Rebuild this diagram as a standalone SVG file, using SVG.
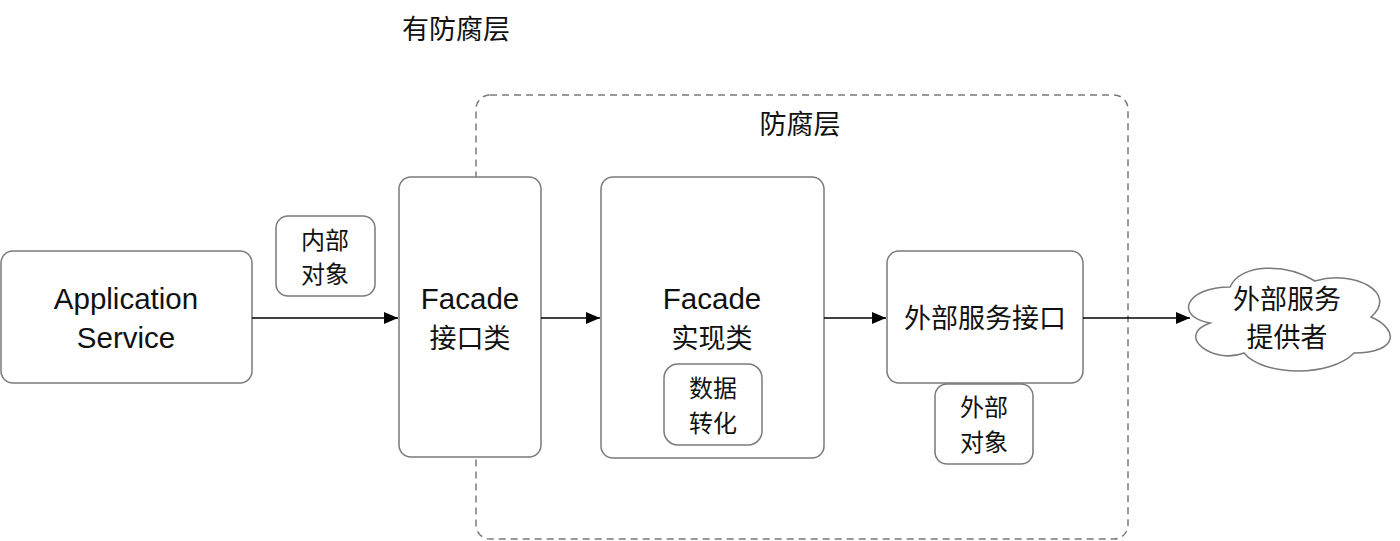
<svg xmlns="http://www.w3.org/2000/svg" width="1400" height="541" viewBox="0 0 1400 541">
<defs>
<marker id="arr" markerWidth="14" markerHeight="12" refX="14" refY="6" orient="auto" markerUnits="userSpaceOnUse">
<path d="M0,0 L14,6 L0,12 Z" fill="#000"/>
</marker>
<style>
.box{fill:#fff;stroke:#7a7a7a;stroke-width:1.5}
.t{font-family:"Liberation Sans","Noto Sans CJK SC",sans-serif;font-size:29.5px;fill:#111;text-anchor:middle}
.z{font-family:"Noto Sans CJK SC",sans-serif;font-size:27px;fill:#111;text-anchor:middle}
.s{font-family:"Noto Sans CJK SC",sans-serif;font-size:24px;fill:#111;text-anchor:middle}
.c{stroke:#000;stroke-width:1.5;fill:none}
</style>
</defs>
<rect width="1400" height="541" fill="#fff"/>
<text class="z" x="456" y="39">有防腐层</text>
<g id="acl">
<rect x="476" y="95" width="652" height="444" rx="14" fill="none" stroke="#7a7a7a" stroke-width="1.5" stroke-dasharray="7,5"/>
<text class="z" x="800" y="134">防腐层</text>
</g>
<g id="app">
<rect class="box" x="1" y="251" width="251" height="132" rx="12"/>
<text class="t" x="126" y="309">Application</text>
<text class="t" x="126" y="348">Service</text>
</g>
<g id="inner">
<rect class="box" x="276" y="216" width="99" height="80" rx="12"/>
<text class="s" x="325" y="249">内部</text>
<text class="s" x="325" y="283">对象</text>
</g>
<g id="facade">
<rect class="box" x="399" y="177" width="142" height="280" rx="12"/>
<text class="t" x="470" y="309">Facade</text>
<text class="z" x="470" y="348">接口类</text>
</g>
<g id="impl">
<rect class="box" x="601" y="177" width="223" height="281" rx="12"/>
<text class="t" x="712" y="309">Facade</text>
<text class="z" x="712" y="348">实现类</text>
</g>
<g id="convert">
<rect class="box" x="664" y="364" width="98" height="81" rx="14"/>
<text class="s" x="713" y="397">数据</text>
<text class="s" x="713" y="432">转化</text>
</g>
<g id="extif">
<rect class="box" x="887" y="251" width="196" height="132" rx="12"/>
<text class="z" x="985" y="328">外部服务接口</text>
</g>
<g id="extobj">
<rect class="box" x="935" y="384" width="98" height="80" rx="12"/>
<text class="s" x="984" y="416">外部</text>
<text class="s" x="984" y="451">对象</text>
</g>
<g id="cloud">
<path class="box" d="M1230,287 C1185,287 1174,317 1210,323 C1174,336 1214,365 1244,353 C1264,377 1331,377 1354,353 C1399,353 1399,329 1371,317 C1399,293 1354,269 1315,281 C1286,263 1241,263 1230,287 Z"/>
<text class="z" x="1287" y="309">外部服务</text>
<text class="z" x="1287" y="347">提供者</text>
</g>
<g id="connectors">
<line class="c" x1="252" y1="318" x2="398" y2="318" marker-end="url(#arr)"/>
<line class="c" x1="541" y1="318" x2="600" y2="318" marker-end="url(#arr)"/>
<line class="c" x1="824" y1="318" x2="886" y2="318" marker-end="url(#arr)"/>
<line class="c" x1="1083" y1="318" x2="1190" y2="318" marker-end="url(#arr)"/>
</g>
</svg>
